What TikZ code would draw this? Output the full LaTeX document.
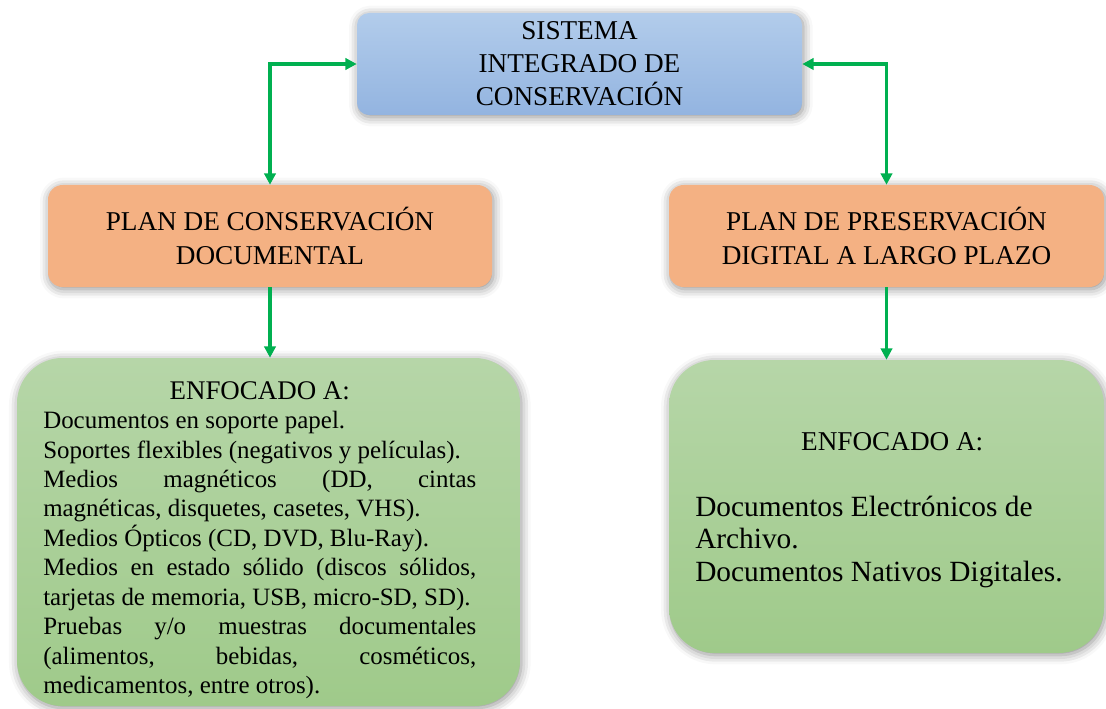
\documentclass[tikz,border=0pt]{standalone}
\usepackage{fontspec}
\setmainfont{Liberation Serif}
\usetikzlibrary{arrows.meta,shadows.blur}
\definecolor{bluetop}{HTML}{B2CCEB}
\definecolor{bluebot}{HTML}{93B4E0}
\definecolor{orangefill}{HTML}{F4B183}
\definecolor{greentop}{HTML}{B6D6A8}
\definecolor{greenbot}{HTML}{9FCA8A}
\definecolor{arrowgreen}{HTML}{00B050}
\tikzset{
  boxbase/.style={inner sep=0pt, align=center, text=black,
    blur shadow={shadow xshift=1pt, shadow yshift=-1.5pt, shadow blur radius=7pt, shadow opacity=45}},
  bluebox/.style={boxbase, rounded corners=9pt, top color=bluetop, bottom color=bluebot,
    font=\fontsize{20.4}{24.75}\selectfont},
  orangebox/.style={boxbase, rounded corners=11pt, fill=orangefill,
    font=\fontsize{20.4}{25.5}\selectfont},
  greenbox/.style={boxbase, rounded corners=34pt, top color=greentop, bottom color=greenbot},
  conn/.style={draw=arrowgreen, line width=2.5pt},
  tip/.style={arrows={-Triangle[length=8.5pt,width=8.5pt]}},
  dtip/.style={arrows={Triangle[length=8.5pt,width=8.5pt]-Triangle[length=8.5pt,width=8.5pt]}},
  textblock/.style={inner sep=0pt, anchor=north west}
}
\begin{document}
\begin{tikzpicture}[x=0.75pt,y=-0.75pt]
\useasboundingbox (0,0) rectangle (1106,709);

\node[bluebox, minimum width=333.75pt, minimum height=76.5pt] (top) at (579.5,64)
  {SISTEMA\\INTEGRADO DE\\CONSERVACIÓN};

\node[orangebox, minimum width=333pt, minimum height=76.5pt] (lplan) at (270,236)
  {PLAN DE CONSERVACIÓN\\DOCUMENTAL};
\node[orangebox, minimum width=326.25pt, minimum height=76.5pt] (rplan) at (886.5,236)
  {PLAN DE PRESERVACIÓN\\DIGITAL A LARGO PLAZO};

\node[greenbox, minimum width=377.25pt, minimum height=261pt] (lfoc) at (268.5,532) {};
\node[greenbox, minimum width=326.25pt, minimum height=219.75pt] (rfoc) at (886.5,506.5) {};

\node[textblock, text width=324.75pt, align=justify,
      font=\fontsize{18.7}{22.1}\selectfont] (lfoctext) at (43,381)
  {\parindent=0pt\tolerance=10000\hyphenpenalty=10000
   \makebox[\linewidth]{\fontsize{20.2}{22.1}\selectfont ENFOCADO A:}\par
   Documentos en soporte papel.\par
   Soportes flexibles (negativos y películas).\par
   Medios magnéticos (DD, cintas\linebreak magnéticas, disquetes, casetes, VHS).\par
   Medios Ópticos (CD, DVD, Blu-Ray).\par
   Medios en estado sólido (discos sólidos,\linebreak tarjetas de memoria, USB, micro-SD, SD).\par
   Pruebas y/o muestras documentales\linebreak (alimentos, bebidas, cosméticos,\linebreak medicamentos, entre otros).};

\node[textblock, text width=295.5pt, align=left,
      font=\fontsize{22}{24.5}\selectfont] (rfoctext) at (695,432)
  {\spaceskip=0pt\xspaceskip=0pt
   \makebox[\linewidth]{\fontsize{20.4}{24.5}\selectfont ENFOCADO A:}\\[25pt]
   Documentos Electrónicos de\\
   Archivo.\\
   Documentos Nativos Digitales.};

\draw[conn, dtip] (top.west) -| (lplan.north);
\draw[conn, dtip] (top.east) -| (rplan.north);
\draw[conn, tip] (lplan.south) -- (lplan.south |- lfoc.north);
\draw[conn, tip] (rplan.south) -- (rplan.south |- rfoc.north);
\end{tikzpicture}
\end{document}
